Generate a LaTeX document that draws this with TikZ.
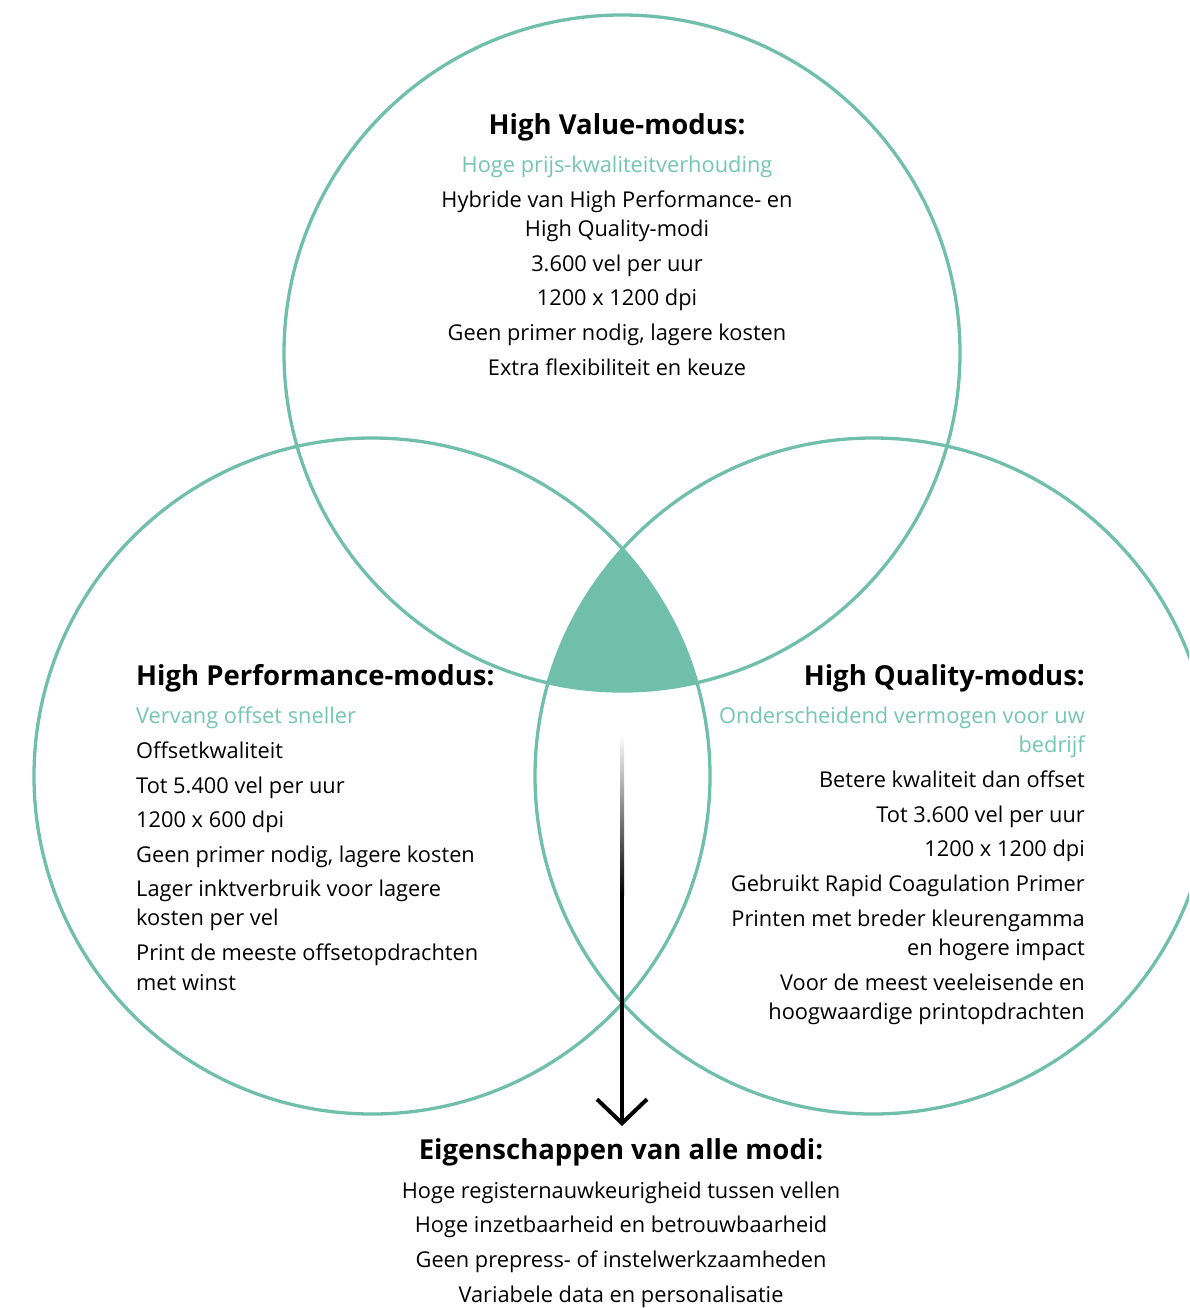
\documentclass[tikz,border=0pt]{standalone}
\usepackage{fontspec}
\setmainfont{Open Sans}
\usetikzlibrary{arrows.meta}
\definecolor{teal}{HTML}{6FBFAA}
\definecolor{tealtext}{HTML}{74C6AE}
\tikzset{
  ring/.style={draw=teal, line width=3.3pt},
  ttl/.style={font=\fontsize{27.5}{32}\selectfont\bfseries, inner sep=0pt},
  txt/.style={font=\fontsize{21.8}{26}\selectfont, inner sep=0pt, text=black},
  sub/.style={txt, text=tealtext},
  arrowline/.style={line width=4pt, draw=black, -{Straight Barb[length=24pt,width=50pt]}}
}
\begin{document}
\begin{tikzpicture}[x=1pt,y=-1pt]
\useasboundingbox (0,0) rectangle (1189,1308);
\clip (0,0) rectangle (1189,1308);
% intersection region
\begin{scope}
  \clip (622,353) circle[radius=338pt];
  \clip (372,776) circle[radius=338pt];
  \fill[teal] (873,776) circle[radius=338pt];
\end{scope}
\draw[ring] (622,353) circle[radius=338pt];
\draw[ring] (372,776) circle[radius=338pt];
\draw[ring] (873,776) circle[radius=338pt];

\begin{scope}[yshift=-5pt]
% top block
\node[ttl, anchor=mid] (vT) at (617,127) {High Value-modus:};
\node[sub, anchor=mid] (v0) at (617,165) {Hoge prijs-kwaliteitverhouding};
\node[txt, anchor=mid] (v1) at (617,200) {Hybride van High Performance- en};
\node[txt, anchor=mid] (v2) at (617,229) {High Quality-modi};
\node[txt, anchor=mid] (v3) at (617,264) {3.600 vel per uur};
\node[txt, anchor=mid] (v4) at (617,298) {1200 x 1200 dpi};
\node[txt, anchor=mid] (v5) at (617,333) {Geen primer nodig, lagere kosten};
\node[txt, anchor=mid] (v6) at (617,368) {Extra flexibiliteit en keuze};

% left block
\node[ttl, anchor=mid west] (pT) at (136,678) {High Performance-modus:};
\node[sub, anchor=mid west] (p0) at (136,716) {Vervang offset sneller};
\node[txt, anchor=mid west] (p1) at (136,751) {Offsetkwaliteit};
\node[txt, anchor=mid west] (p2) at (136,786) {Tot 5.400 vel per uur};
\node[txt, anchor=mid west] (p3) at (136,820) {1200 x 600 dpi};
\node[txt, anchor=mid west] (p4) at (136,855) {Geen primer nodig, lagere kosten};
\node[txt, anchor=mid west] (p5) at (136,889) {Lager inktverbruik voor lagere};
\node[txt, anchor=mid west] (p6) at (136,918) {kosten per vel};
\node[txt, anchor=mid west] (p7) at (136,953) {Print de meeste offsetopdrachten};
\node[txt, anchor=mid west] (p8) at (136,983) {met winst};

% right block
\node[ttl, anchor=mid east] (qT) at (1085,678) {High Quality-modus:};
\node[sub, anchor=mid east] (q0) at (1085,716) {Onderscheidend vermogen voor uw};
\node[sub, anchor=mid east] (q1) at (1085,745) {bedrijf};
\node[txt, anchor=mid east] (q2) at (1085,780) {Betere kwaliteit dan offset};
\node[txt, anchor=mid east] (q3) at (1085,815) {Tot 3.600 vel per uur};
\node[txt, anchor=mid east] (q4) at (1085,849) {1200 x 1200 dpi};
\node[txt, anchor=mid east] (q5) at (1085,884) {Gebruikt Rapid Coagulation Primer};
\node[txt, anchor=mid east] (q6) at (1085,919) {Printen met breder kleurengamma};
\node[txt, anchor=mid east] (q7) at (1085,948) {en hogere impact};
\node[txt, anchor=mid east] (q8) at (1085,983) {Voor de meest veeleisende en};
\node[txt, anchor=mid east] (q9) at (1085,1012) {hoogwaardige printopdrachten};

% bottom block
\node[ttl, anchor=mid] (aT) at (621,1152) {Eigenschappen van alle modi:};
\node[txt, anchor=mid] (a1) at (621,1191) {Hoge registernauwkeurigheid tussen vellen};
\node[txt, anchor=mid] (a2) at (621,1225) {Hoge inzetbaarheid en betrouwbaarheid};
\node[txt, anchor=mid] (a3) at (621,1260) {Geen prepress- of instelwerkzaamheden};
\node[txt, anchor=mid] (a4) at (621,1295) {Variabele data en personalisatie};
\end{scope}

% arrow
\coordinate (arrowTop) at (622,735);
\coordinate (fadeEnd) at (622,895);
\coordinate (arrowTip) at (622,1126);
\shade[top color=white, middle color=black!25, bottom color=black]
  ([xshift=-2pt]arrowTop) rectangle ([xshift=2pt]fadeEnd);
\draw[arrowline] (fadeEnd) -- (arrowTip);
\end{tikzpicture}
\end{document}
